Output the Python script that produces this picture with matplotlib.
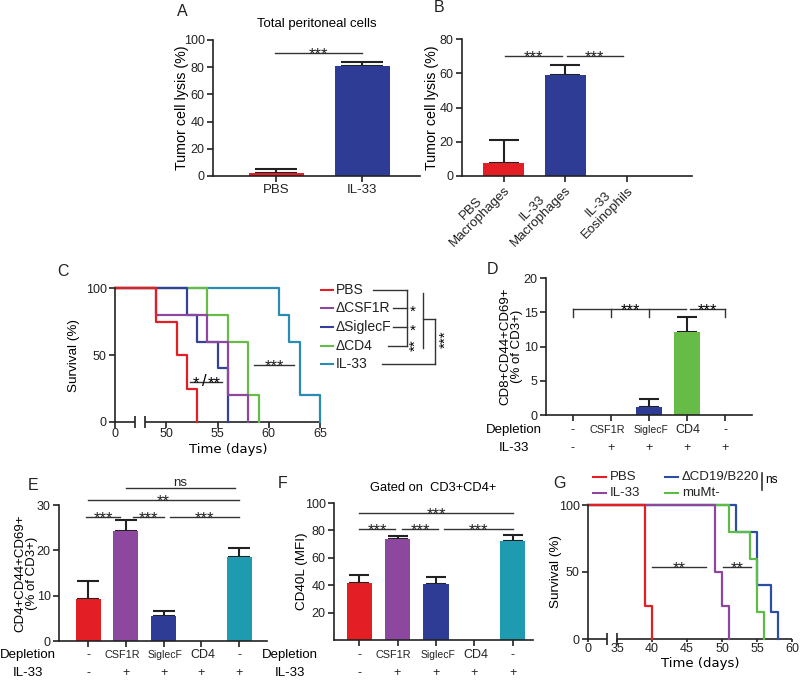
import numpy as np
import matplotlib
matplotlib.use("Agg")
import matplotlib.pyplot as plt

plt.rcParams['font.family'] = ['Liberation Sans', 'DejaVu Sans']

# ---------------- data ----------------
a_labels = ['PBS', 'IL-33']
a_vals = [2.0, 81.0]
a_err = [3.1, 3.0]

b_labels = ['PBS\nMacrophages', 'IL-33\nMacrophages', 'IL-33\nEosinophils']
b_vals = [7.8, 59.2, 0.0]
b_err = [13.2, 5.6, 0.0]

# survival (C)
c_groups = ['PBS', '\u0394CSF1R', '\u0394SiglecF', '\u0394CD4', 'IL-33']
c_pbs_t = [0, 49, 51, 52, 53]
c_pbs_s = [100, 75, 50, 25, 0]
c_csf_t = [0, 49, 54, 56, 58]
c_csf_s = [100, 80, 60, 20, 0]
c_sig_t = [0, 52, 53, 55, 56]
c_sig_s = [100, 80, 60, 40, 0]
c_cd4_t = [0, 54, 56, 58, 59]
c_cd4_s = [100, 80, 60, 20, 0]
c_il_t = [0, 61, 62, 63, 65]
c_il_s = [100, 80, 60, 20, 0]
c_ticks = [0, 50, 55, 60, 65]

depletion = ['-', 'CSF1R', 'SiglecF', 'CD4', '-']
il33 = ['-', '+', '+', '+', '+']

d_vals = [0.0, 0.0, 1.15, 12.1, 0.0]
d_err = [0.0, 0.0, 1.25, 2.25, 0.0]

e_vals = [9.3, 24.3, 5.5, 0.0, 18.6]
e_err = [3.9, 2.3, 1.1, 0.0, 1.9]

f_vals = [41.8, 73.6, 41.0, 0.0, 72.3]
f_err = [5.8, 2.6, 4.8, 0.0, 4.3]

# survival (G)
g_groups = ['PBS', 'IL-33', '\u0394CD19/B220', 'muMt-']
g_pbs_t = [0, 39, 40]
g_pbs_s = [100, 25, 0]
g_il_t = [0, 49, 50, 51]
g_il_s = [100, 50, 25, 0]
g_cd19_t = [0, 52, 55, 57, 58]
g_cd19_s = [100, 80, 40, 20, 0]
g_mumt_t = [0, 51, 54, 55, 56]
g_mumt_s = [100, 80, 60, 20, 0]
g_ticks = [0, 35, 40, 45, 50, 55, 60]

RED = '#E31E25'
BLUE = '#2E3C96'
PURPLE = '#8C479F'
GREEN = '#66BC46'
TEAL = '#1E9AB1'
DARK = '#222222'
grp_colors = [RED, PURPLE, BLUE, GREEN, TEAL]

W, H = 800, 682
fig = plt.figure(figsize=(8, 6.82), dpi=100)


def add_ax(l, t, r, b):
    ax = fig.add_axes([l / W, 1 - b / H, (r - l) / W, (b - t) / H])
    ax._px = (l, t, r, b)
    return ax


def style(ax):
    for s in ['top', 'right']:
        ax.spines[s].set_visible(False)
    for s in ['left', 'bottom']:
        ax.spines[s].set_linewidth(1.2)
        ax.spines[s].set_color(DARK)
    ax.tick_params(direction='out', length=4, width=1.2, labelsize=9,
                   colors=DARK, pad=2)


def ylab(ax, text, xc, fs=9.7, **kw):
    l, t, r, b = ax._px
    ax.set_ylabel(text, fontsize=fs, **kw)
    ax.yaxis.label.set_va('center')
    ax.yaxis.set_label_coords((xc - l) / (r - l), 0.5)


def xlab(ax, text, xc, yc, **kw):
    l, t, r, b = ax._px
    ax.set_xlabel(text, **kw)
    ax.xaxis.label.set_va('center')
    ax.xaxis.set_label_coords((xc - l) / (r - l), -(yc - b) / (b - t))


def bars(ax, vals, err, colors, width, capsize):
    x = np.arange(len(vals))
    ax.bar(x, vals, width=width, color=colors, zorder=2)
    m = np.array(err) > 0
    ax.errorbar(x[m], np.array(vals)[m],
                yerr=[np.zeros(m.sum()), np.array(err)[m]],
                fmt='none', ecolor=DARK, elinewidth=1.5, capsize=capsize,
                capthick=1.5, zorder=1)
    return x


def sig(ax, x0, x1, y, text, fs=12, off=-6.5):
    ax.plot([x0, x1], [y, y], color='#333333', lw=1, clip_on=False)
    ax.annotate(text, xy=((x0 + x1) / 2, y), xytext=(0, off),
                textcoords='offset points', ha='center', va='bottom',
                fontsize=fs, color=DARK, annotation_clip=False)


ov = fig.add_axes([0, 0, 1, 1])
ov.set_xlim(0, W)
ov.set_ylim(H, 0)
ov.axis('off')

# ---------------- A ----------------
ax = add_ax(213, 40, 420, 176)
style(ax)
bars(ax, a_vals, a_err, [RED, BLUE], 0.64, 15)
ax.set_xlim(-0.733, 1.674)
ax.set_ylim(0, 100)
ax.set_yticks([0, 20, 40, 60, 80, 100])
ax.set_xticks([0, 1])
ax.set_xticklabels(a_labels, fontsize=9.5)
ylab(ax, 'Tumor cell lysis (%)', 182, fs=10.3)
ax.set_title('Total peritoneal cells', fontsize=9.5, pad=9)
sig(ax, -0.01, 1.0, 90.4, '***')

# ---------------- B ----------------
ax = add_ax(462, 39, 692, 176)
style(ax)
bars(ax, b_vals, b_err, [RED, BLUE, BLUE], 0.67, 11)
ax.set_xlim(-0.68, 3.06)
ax.set_ylim(0, 80)
ax.set_yticks([0, 20, 40, 60, 80])
ax.set_xticks([0, 1, 2])
ax.set_xticklabels(b_labels, rotation=45, ha='right', va='center',
                   rotation_mode='anchor', multialignment='center',
                   fontsize=9.5, linespacing=1.0)
ylab(ax, 'Tumor cell lysis (%)', 432, fs=10.3)
sig(ax, 0.02, 0.94, 70, '***')
sig(ax, 1.02, 1.93, 70, '***')


# ---------------- survival helpers ----------------
def squash(t, zero, brk):
    t = np.asarray(t, dtype=float)
    return np.where(t < brk, zero + t * (brk - zero) / brk, t)


def surv_axes(ax, zero, brk, b0, b1, xmax, ticks, ylx, xlx, xly, tlen=4):
    style(ax)
    ax.spines['bottom'].set_visible(False)
    tr = ax.get_xaxis_transform()
    ax.plot([zero, b0], [0, 0], color=DARK, lw=1.2, transform=tr,
            clip_on=False, solid_capstyle='butt')
    ax.plot([b1, xmax], [0, 0], color=DARK, lw=1.2, transform=tr,
            clip_on=False, solid_capstyle='butt')
    ax.plot([b0, b1], [0, 0], ls='none', marker='|', ms=8, mew=1.2,
            color=DARK, transform=tr, clip_on=False)
    ax.set_xlim(zero, xmax)
    ax.set_ylim(0, 100)
    ax.set_xticks(squash(ticks, zero, brk))
    ax.set_xticklabels([str(t) for t in ticks])
    ax.tick_params(axis='x', pad=0.5, length=tlen)
    ax.set_yticks([0, 50, 100])
    ylab(ax, 'Survival (%)', ylx)
    xlab(ax, 'Time (days)', xlx, xly, fontsize=9.5, family='DejaVu Sans')


# ---------------- C ----------------
ax = add_ax(115, 288, 320, 422)
C_ZERO, C_BRK = 45.0, 47.9
surv_axes(ax, C_ZERO, C_BRK, 46.95, 47.9, 65, c_ticks, 74, 228, 450)
c_cols = [RED, PURPLE, '#36409A', GREEN, '#2A8CB5']
c_curves = [(c_il_t, c_il_s, c_cols[4]), (c_cd4_t, c_cd4_s, c_cols[3]),
            (c_sig_t, c_sig_s, c_cols[2]), (c_csf_t, c_csf_s, c_cols[1]),
            (c_pbs_t, c_pbs_s, c_cols[0])]
for t, s, col in c_curves:
    ax.step(squash(t, C_ZERO, C_BRK), s, where='post', color=col, lw=1.6,
            clip_on=False)
ax.plot([52.3, 55.4], [30, 30], color='#333333', lw=1)
ax.annotate('*', xy=(52.9, 30), xytext=(0, -6.5), textcoords='offset points',
            ha='center', va='bottom', fontsize=12)
ax.annotate('**', xy=(54.7, 30), xytext=(0, -6.5), textcoords='offset points',
            ha='center', va='bottom', fontsize=12)
ax.text(53.75, 30, '/', fontsize=12, ha='center', va='center')
sig(ax, 58.6, 62.5, 42.5, '***')

c_y = [290, 308, 327, 346, 364]
for lab, col, y in zip(c_groups, c_cols, c_y):
    ov.plot([320, 333], [y, y], color=col, lw=1.5)
    ov.text(336, y, lab, fontsize=10, va='center', ha='left', color=DARK)
lk = dict(color='#333333', lw=1)
ov.plot([373, 407], [290, 290], **lk)
ov.plot([393, 407], [308, 308], **lk)
ov.plot([393, 407], [327, 327], **lk)
ov.plot([388, 407], [346, 346], **lk)
ov.plot([407, 407], [290, 346], **lk)
ov.plot([423, 423], [293, 348], **lk)
ov.plot([423, 435], [319, 319], **lk)
ov.plot([435, 435], [319, 364], **lk)
ov.plot([382, 435], [364, 364], **lk)
ov.text(413, 312, '*', fontsize=11, ha='center', va='center')
ov.text(413, 331, '*', fontsize=11, ha='center', va='center')
ov.text(416, 345, '**', fontsize=11, ha='center', va='center', rotation=90)
ov.text(446, 339, '***', fontsize=11, ha='center', va='center', rotation=90)


# ---------------- D/E/F helpers ----------------
name_fs = {'CSF1R': 7.8, 'SiglecF': 7.5, 'CD4': 9}
name_dx = {'CSF1R': -0.1, 'SiglecF': 0.04, 'CD4': 0.03}


def dep_rows(ax, y1, y2):
    l, t, r, b = ax._px
    tr = ax.get_xaxis_transform()
    h = b - t
    for i, (d, p) in enumerate(zip(depletion, il33)):
        ax.text(i + name_dx.get(d, 0), -(y1 - b) / h, d, transform=tr,
                ha='center', va='center', fontsize=name_fs.get(d, 9),
                color=DARK)
        ax.text(i, -(y2 - b) / h, p, transform=tr, ha='center',
                va='center', fontsize=9, color=DARK)
    ax.set_xticks(range(len(depletion)))
    ax.set_xticklabels([])


def row_labels(xc, y1, y2):
    ov.text(xc, y1, 'Depletion', fontsize=9.5, ha='center', va='center')
    ov.text(xc, y2, 'IL-33', fontsize=9.5, ha='center', va='center')


# ---------------- D ----------------
ax = add_ax(546, 278, 752, 415)
style(ax)
bars(ax, d_vals, d_err, [RED, PURPLE, BLUE, GREEN, TEAL], 0.66, 7)
ax.set_xlim(-0.71, 4.71)
ax.set_ylim(0, 20)
ax.set_yticks([0, 5, 10, 15, 20])
dep_rows(ax, 430, 448)
row_labels(514, 430, 448)
ylab(ax, 'CD8+CD44+CD69+\n(% of CD3+)', 511, fs=9.5, linespacing=1.0)
ax.plot([0, 2.97], [15.5, 15.5], color='#333333', lw=1)
for xx in [0, 1, 2]:
    ax.plot([xx, xx], [15.5, 14.3], color='#333333', lw=1)
ax.plot([3.07, 4], [15.5, 15.5], color='#333333', lw=1)
ax.plot([4, 4], [15.5, 14.3], color='#333333', lw=1)
for xm in [1.5, 3.55]:
    ax.annotate('***', xy=(xm, 15.5), xytext=(0, -6.5),
                textcoords='offset points', ha='center', va='bottom',
                fontsize=12)

# ---------------- E ----------------
ax = add_ax(59, 505, 267, 641)
style(ax)
bars(ax, e_vals, e_err, grp_colors, 0.66, 8)
ax.set_xlim(-0.77, 4.74)
ax.set_ylim(0, 30)
ax.set_yticks([0, 10, 20, 30])
dep_rows(ax, 655, 673)
row_labels(28, 655, 673)
ylab(ax, 'CD4+CD44+CD69+\n(% of CD3+)', 26, fs=9.5, linespacing=1.0)
sig(ax, -0.05, 0.85, 27.4, '***')
sig(ax, 1.2, 2.0, 27.4, '***')
sig(ax, 2.17, 4.0, 27.4, '***')
sig(ax, 0.0, 4.0, 31.1, '**')
sig(ax, 1.0, 3.9, 33.8, 'ns', fs=9.5, off=-1)

# ---------------- F ----------------
ax = add_ax(334, 503, 533, 640)
style(ax)
bars(ax, f_vals, f_err, grp_colors, 0.65, 7)
ax.set_xlim(-0.65, 4.52)
ax.set_ylim(0, 100)
ax.set_yticks([20, 40, 60, 80, 100])
dep_rows(ax, 655, 673)
row_labels(290, 655, 673)
ylab(ax, 'CD40L (MFI)', 302)
ax.set_title('Gated on  CD3+CD4+', fontsize=9.3, pad=9)
sig(ax, 0.0, 0.94, 81, '***')
sig(ax, 1.12, 2.05, 81, '***')
sig(ax, 2.2, 4.0, 81, '***')
sig(ax, 0.0, 4.0, 92.6, '***')

# ---------------- G ----------------
ax = add_ax(588, 505, 792, 639)
G_ZERO, G_BRK = 30.86, 35.0
surv_axes(ax, G_ZERO, G_BRK, 33.6, 35.0, 60, g_ticks, 556, 700, 664, tlen=2.5)
g_cols = [RED, PURPLE, '#2B4DA2', '#5DBB47']
g_curves = [(g_cd19_t, g_cd19_s, g_cols[2]), (g_mumt_t, g_mumt_s, g_cols[3]),
            (g_il_t, g_il_s, g_cols[1]), (g_pbs_t, g_pbs_s, g_cols[0])]
for t, s, col in g_curves:
    ax.step(squash(t, G_ZERO, G_BRK), s, where='post', color=col, lw=1.6,
            clip_on=False)
sig(ax, 40.0, 47.7, 54, '**')
sig(ax, 50.2, 54.1, 54, '**')

g_pos = [(593, 477), (593, 493), (665, 477), (665, 493)]
for lab, col, (x, y) in zip(g_groups, g_cols, g_pos):
    ov.plot([x, x + 13], [y, y], color=col, lw=1.5)
    ov.text(x + 17, y, lab, fontsize=9.5, va='center', ha='left', color=DARK)
ov.plot([762, 762], [473, 490], color='#333333', lw=1.2)
ov.text(765, 480, 'ns', fontsize=8.5, va='center', ha='left')

# ---------------- panel letters ----------------
for letter, x, y in [('A', 182, 12), ('B', 439, 8), ('C', 63, 272),
                     ('D', 492, 270), ('E', 33, 486), ('F', 283, 483),
                     ('G', 560, 483)]:
    ov.text(x, y, letter, fontsize=11.5, ha='center', va='center',
            color=DARK)

fig.savefig('out.png', dpi=100)
